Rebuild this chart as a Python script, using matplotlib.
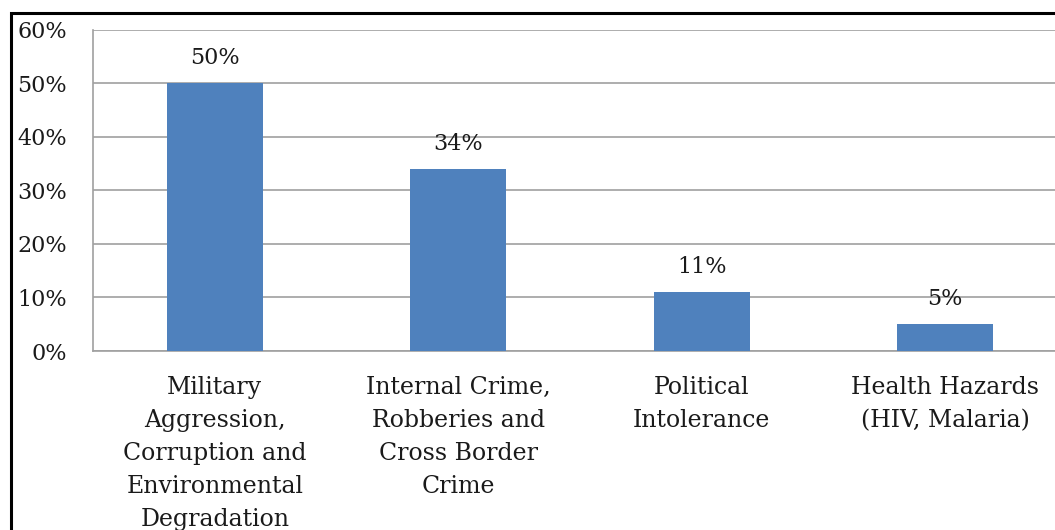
import matplotlib.pyplot as plt
from matplotlib.patches import Rectangle
from matplotlib.ticker import PercentFormatter

categories = [
    "Military\nAggression,\nCorruption and\nEnvironmental\nDegradation",
    "Internal Crime,\nRobberies and\nCross Border\nCrime",
    "Political\nIntolerance",
    "Health Hazards\n(HIV, Malaria)",
]
shares = [50, 34, 11, 5]
y_ticks = [0, 10, 20, 30, 40, 50, 60]

plt.rcParams["font.family"] = ["DejaVu Serif"]

fig = plt.figure(figsize=(10.55, 5.3), dpi=100)
ax = fig.add_axes([0.0882, 0.3377, 0.9232, 0.6066])

x = range(len(categories))
bars = ax.bar(x, shares, width=0.395, color="#4F81BD", zorder=3)

for b, v in zip(bars, shares):
    ax.annotate(f"{v}%", (b.get_x() + b.get_width() / 2, v),
                xytext=(0, 10), textcoords="offset points",
                ha="center", va="bottom", fontsize=16, color="#1a1a1a")

ax.set_xlim(-0.5, len(categories) - 0.5)
ax.set_ylim(0, 60)
ax.set_yticks(y_ticks)
ax.yaxis.set_major_formatter(PercentFormatter(decimals=0))
ax.set_xticks(list(x))
ax.set_xticklabels(categories, linespacing=1.55)
ax.tick_params(axis="y", length=0, pad=19, labelsize=16, colors="#1a1a1a")
ax.tick_params(axis="x", length=0, pad=18, labelsize=17, colors="#1a1a1a")

ax.grid(axis="y", color="#a0a0a0", linewidth=1.2, zorder=0)
for side in ["top", "right"]:
    ax.spines[side].set_visible(False)
ax.spines["left"].set_color("#a0a0a0")
ax.spines["left"].set_linewidth(1.2)
ax.spines["bottom"].set_color("#a0a0a0")
ax.spines["bottom"].set_linewidth(1.2)

# outer frame, running off the right and bottom edges
fig.add_artist(Rectangle((11 / 1055, -0.2), 1.2, 1 - 13 / 530 + 0.2,
                         transform=fig.transFigure, fill=False,
                         edgecolor="black", linewidth=2.2, clip_on=False))

fig.savefig("out.png", dpi=100)
